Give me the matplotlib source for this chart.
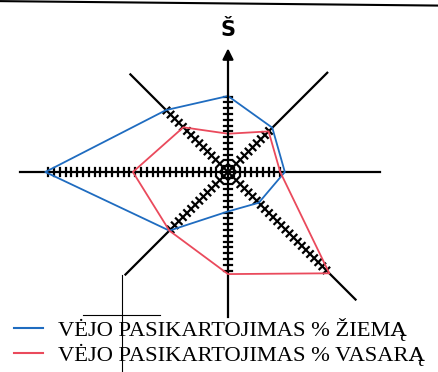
import numpy as np
import matplotlib.pyplot as plt
from matplotlib.lines import Line2D

# wind rose data (percent), directions N, NE, E, SE, S, SW, W, NW
krypt = ["Š", "ŠR", "R", "PR", "P", "PV", "V", "ŠV"]
kampai = [90, 45, 0, -45, -90, -135, 180, 135]
ziema = [13.1, 10.8, 9.8, 7.5, 6.8, 14.3, 31.5, 15.1]
vasara = [6.6, 9.9, 9.0, 24.7, 17.6, 14.3, 16.4, 10.9]
asiu_ilgis = [21.8, 24.2, 26.2, 31.1, 25.0, 25.0, 35.8, 23.8]
legendos = ["VĖJO PASIKARTOJIMAS % ŽIEMĄ", "VĖJO PASIKARTOJIMAS % VASARĄ"]

blue = "#1f6cc0"
red = "#ea4a5c"

px = 5.8  # pixels per percent
fig = plt.figure(figsize=(4.39, 3.72), dpi=100)
ax = fig.add_axes([0, 0, 1, 1])
ax.set_xlim(-228 / px, (439 - 228) / px)
ax.set_ylim(-(372 - 172) / px, 172 / px)
ax.axis("off")

rad = np.deg2rad(kampai)

# axes of the rose
for a, L, name in zip(rad, asiu_ilgis, krypt):
    if name == "Š":
        ax.annotate("", xy=(0, L), xytext=(0, 0),
                    arrowprops=dict(arrowstyle="-|>", lw=1.6, color="k",
                                    mutation_scale=16))
    else:
        ax.plot([0, L * np.cos(a)], [0, L * np.sin(a)], color="k", lw=1.6)

# tick marks, 1 per percent, up to max of the two seasons
for a, z, v in zip(rad, ziema, vasara):
    n = int(max(z, v))
    d = np.array([np.cos(a), np.sin(a)])
    p = np.array([-np.sin(a), np.cos(a)])
    for k in range(1, n + 1):
        c = d * k
        ax.plot([c[0] - p[0] * 0.7, c[0] + p[0] * 0.7],
                [c[1] - p[1] * 0.7, c[1] + p[1] * 0.7], color="k", lw=1.6)

# season polygons
for vals, col in [(ziema, blue), (vasara, red)]:
    r = np.array(vals + vals[:1])
    aa = np.append(rad, rad[0])
    ax.plot(r * np.cos(aa), r * np.sin(aa), color=col, lw=1.3)

ax.text(0, (172 - 30) / px, "Š", ha="center", va="center",
        fontsize=15, fontweight="bold", family="DejaVu Sans")

# scan leftovers
ax.plot([0, 1], [0.997, 0.985], transform=ax.transAxes, color="k", lw=1.5)
ax.plot([122 / 439, 122 / 439], [0, 1 - 275 / 372], transform=ax.transAxes,
        color="k", lw=0.8)
ax.plot([83 / 439, 160 / 439], [1 - 315 / 372, 1 - 315 / 372],
        transform=ax.transAxes, color="k", lw=0.8)

handles = [Line2D([], [], color=blue, lw=1.5), Line2D([], [], color=red, lw=1.5)]
ax.legend(handles, legendos, loc="lower left", bbox_to_anchor=(0.0, -0.02),
          frameon=False, prop={"family": "Liberation Serif", "size": 16.2},
          handlelength=1.3, handletextpad=0.7, labelspacing=0.14,
          borderaxespad=0.2)

fig.savefig("out.png", dpi=100)
